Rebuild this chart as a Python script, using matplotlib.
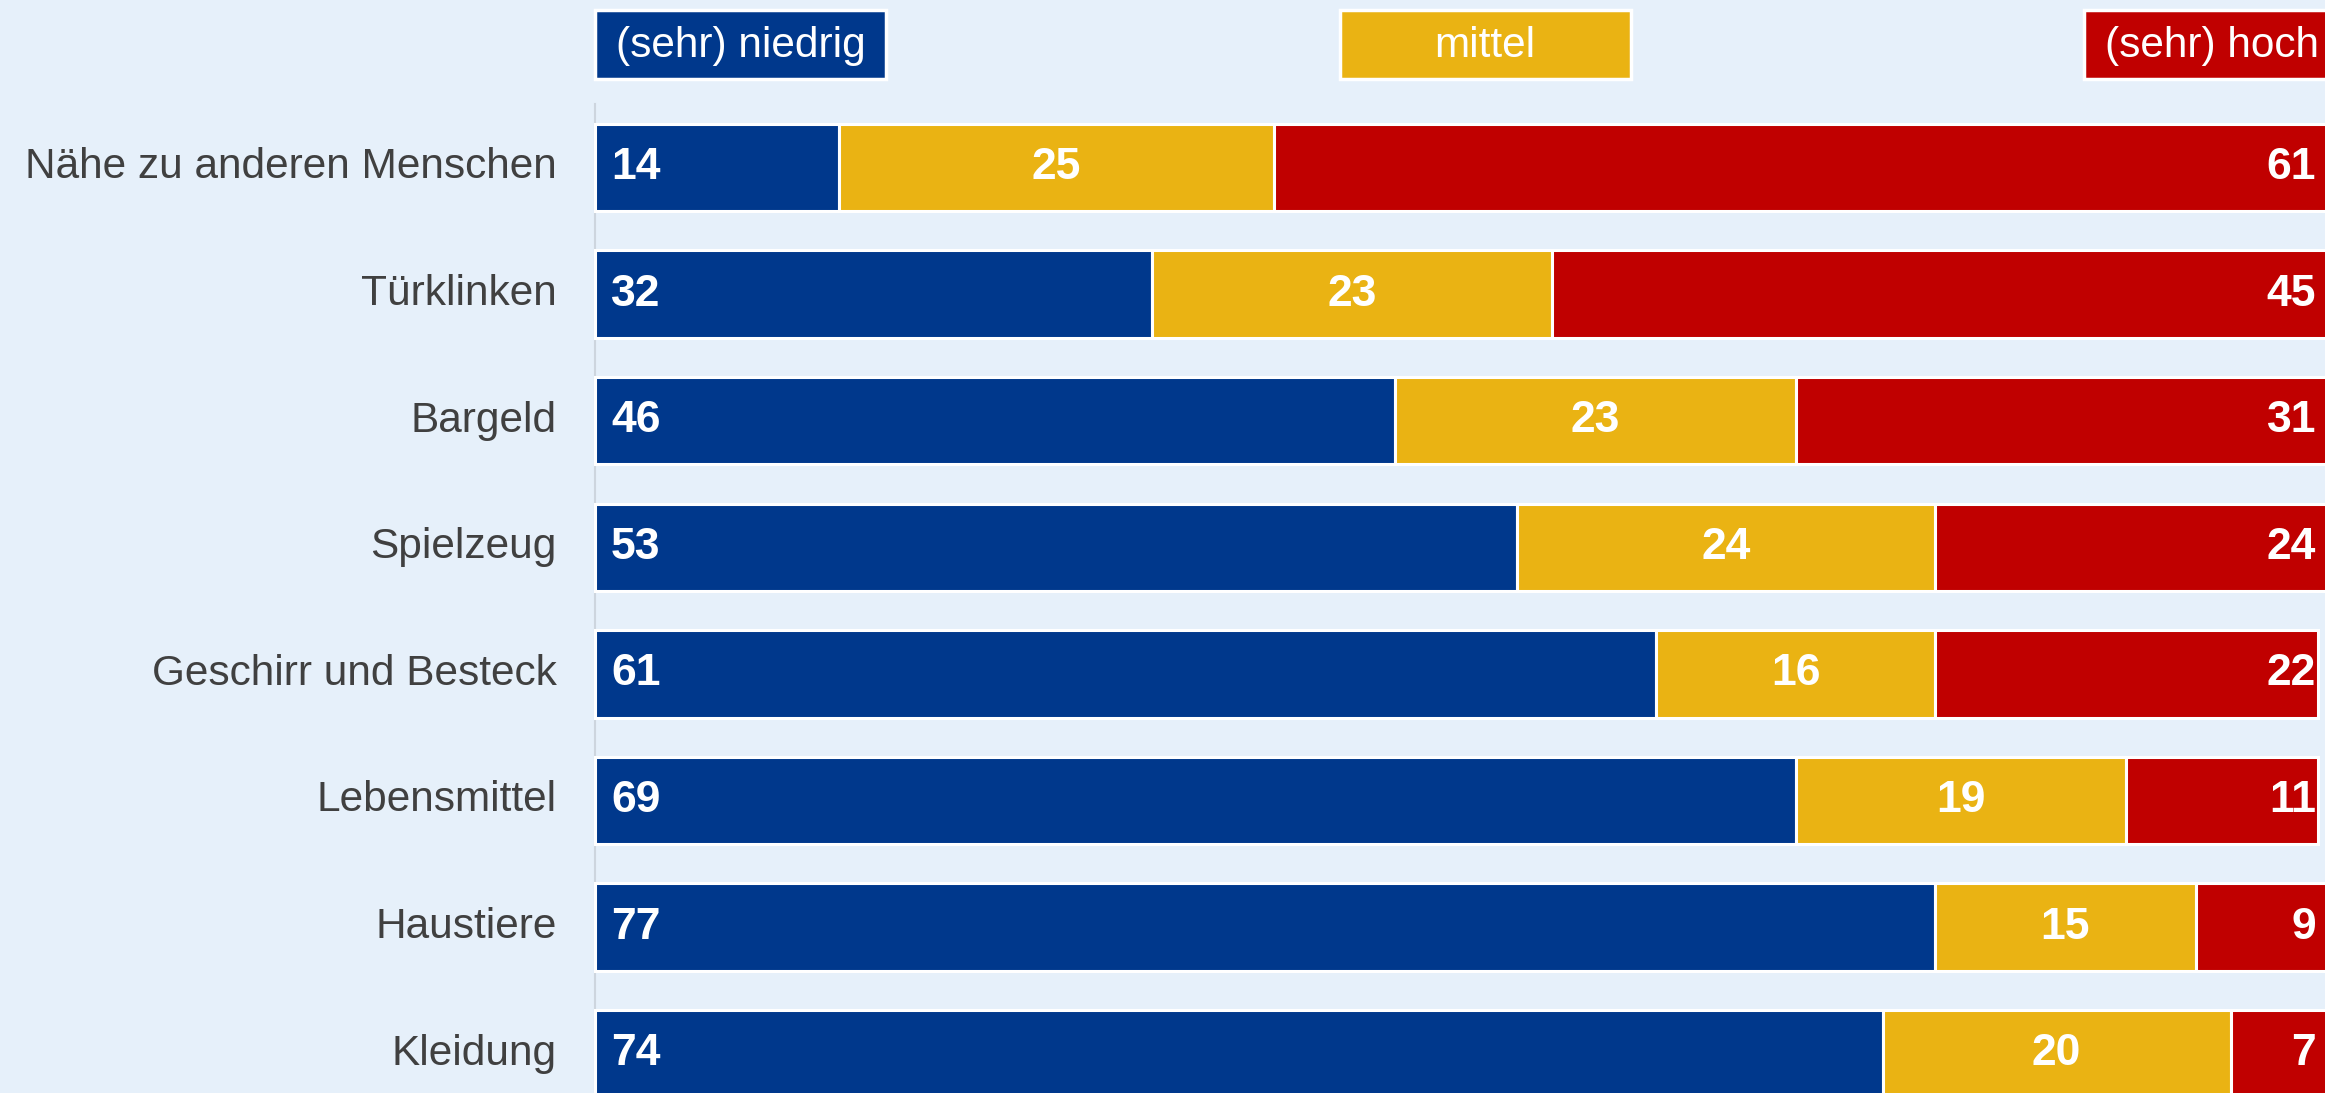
import matplotlib.pyplot as plt
from matplotlib.patches import Rectangle

# Daten: Einschätzung des Ansteckungsrisikos (Prozent)
kategorien = ["Nähe zu anderen Menschen", "Türklinken", "Bargeld", "Spielzeug",
              "Geschirr und Besteck", "Lebensmittel", "Haustiere", "Kleidung"]
niedrig = [14, 32, 46, 53, 61, 69, 77, 74]
mittel = [25, 23, 23, 24, 16, 19, 15, 20]
hoch = [61, 45, 31, 24, 22, 11, 9, 7]
legende = ["(sehr) niedrig", "mittel", "(sehr) hoch"]

farben = ["#00388C", "#EAB313", "#C00000"]
hintergrund = "#E6F0FA"

W, H = 2325, 1093
fig = plt.figure(figsize=(W / 100, H / 100), dpi=100)
fig.patch.set_facecolor(hintergrund)
ax = fig.add_axes([0, 0, 1, 1])
ax.set_facecolor(hintergrund)

# Achsenskalierung so wählen, dass Balken bei x=595px starten
px_einheit = 17.4
x0 = 595
zeile = 126.6
y0 = 167.5
ax.set_xlim(-x0 / px_einheit, (W - x0) / px_einheit)
ax.set_ylim((H - y0) / zeile, -y0 / zeile)
ax.axis("off")

# dünne Achsenlinie links
ax.axvline(0, ymin=0, ymax=1 - 104 / H, color="#cdd5de", lw=1.5, zorder=0)

pos = list(range(len(kategorien)))
links = [0] * len(kategorien)
for i, (werte, farbe) in enumerate(zip([niedrig, mittel, hoch], farben)):
    ax.barh(pos, werte, left=links, height=0.69, color=farbe,
            edgecolor="white", linewidth=2.2, zorder=2)
    for p, l, v in zip(pos, links, werte):
        if i == 0:
            x, ha = l + 16 / px_einheit, "left"
        elif i == 1:
            x, ha = l + v / 2, "center"
        else:
            x, ha = (2316 - x0) / px_einheit, "right"
        ax.text(x, p, str(v), ha=ha, va="center", color="white", fontsize=32,
                fontweight="bold", family="Liberation Sans", zorder=3)
    links = [l + v for l, v in zip(links, werte)]

for p, name in zip(pos, kategorien):
    ax.text(-2.2, p, name, ha="right", va="center", fontsize=30.5,
            color="#404040", family="Liberation Sans")

# Legende als farbige Kästchen oben
for k, (text, farbe) in enumerate(zip(legende, farben)):
    bx = 595 + k * 744.5
    fig.add_artist(Rectangle((bx / W, 1 - 79 / H), 291 / W, 69 / H,
                             transform=fig.transFigure, facecolor=farbe,
                             edgecolor="white", lw=2.5))
    if k < 2:
        tx, ha = bx + 145.5, "center"
    else:
        tx, ha = bx + 21, "left"   # letzter Kasten ist am Rand abgeschnitten
    fig.text(tx / W, 1 - 46 / H, text, ha=ha, va="center",
             color="white", fontsize=30.5, family="Liberation Sans")

plt.savefig("out.png", dpi=100, facecolor=hintergrund)
